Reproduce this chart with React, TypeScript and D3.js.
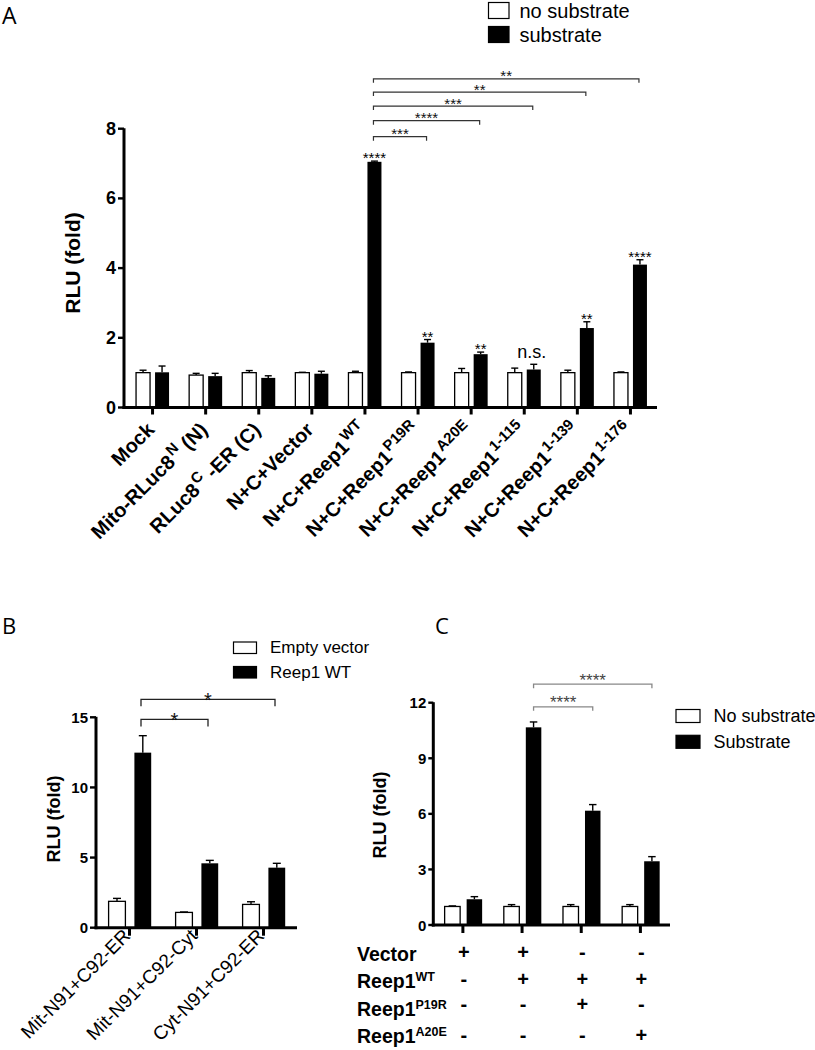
import React from "react";
import * as d3 from "d3";

// ---------------- Data ----------------
// Panel A
const catsA = [
  "Mock",
  "Mito-RLuc8^{N} (N)",
  "RLuc8^{C} -ER (C)",
  "N+C+Vector",
  "N+C+Reep1^{WT}",
  "N+C+Reep1^{P19R}",
  "N+C+Reep1^{A20E}",
  "N+C+Reep1^{1-115}",
  "N+C+Reep1^{1-139}",
  "N+C+Reep1^{1-176}",
];
const noSubA = [1.0, 0.93, 1.0, 1.0, 1.0, 1.0, 1.0, 1.0, 1.0, 1.0];
const noSubErrA = [0.07, 0.05, 0.06, 0.01, 0.04, 0.02, 0.12, 0.13, 0.07, 0.02];
const subA = [1.01, 0.9, 0.85, 0.97, 7.05, 1.86, 1.53, 1.09, 2.28, 4.1];
const subErrA = [0.18, 0.08, 0.06, 0.07, 0.02, 0.09, 0.06, 0.15, 0.18, 0.14];
const starsA = ["", "", "", "", "****", "**", "**", "n.s.", "**", "****"];
const bracketFromA = [4, 4, 4, 4, 4];
const bracketToA = [5, 6, 7, 8, 9];
const bracketLabelA = ["***", "****", "***", "**", "**"];
const bracketYA = [7.77, 8.23, 8.65, 9.05, 9.43];
const yTicksA = [0, 2, 4, 6, 8];
const legendA = ["no substrate", "substrate"];

// Panel B
const catsB = ["Mit-N91+C92-ER", "Mit-N91+C92-Cyt", "Cyt-N91+C92-ER"];
const emptyB = [1.88, 1.09, 1.66];
const emptyErrB = [0.21, 0.03, 0.19];
const wtB = [12.48, 4.59, 4.28];
const wtErrB = [1.21, 0.21, 0.31];
const bracketFromB = [0, 0];
const bracketToB = [1, 2];
const bracketLabelB = ["*", "*"];
const bracketYB = [14.85, 16.28];
const yTicksB = [0, 5, 10, 15];
const legendB = ["Empty vector", "Reep1 WT"];

// Panel C
const catsC = ["c1", "c2", "c3", "c4"];
const noSubC = [1.0, 1.0, 1.0, 1.0];
const noSubErrC = [0.03, 0.1, 0.1, 0.1];
const subC = [1.39, 10.67, 6.17, 3.44];
const subErrC = [0.14, 0.29, 0.33, 0.25];
const bracketFromC = [1, 1];
const bracketToC = [2, 3];
const bracketLabelC = ["****", "****"];
const bracketYC = [11.78, 13.0];
const yTicksC = [0, 3, 6, 9, 12];
const legendC = ["No substrate", "Substrate"];
const tableRowsC = ["Vector", "Reep1^{WT}", "Reep1^{P19R}", "Reep1^{A20E}"];
const tableSignsC = [
  ["+", "+", "-", "-"],
  ["-", "+", "+", "+"],
  ["-", "-", "+", "-"],
  ["-", "-", "-", "+"],
];

// ---------------- Helpers ----------------
const FONT = "'Liberation Sans', Arial, Helvetica, sans-serif";
const LETTER_FONT = "'Open Sans', 'Liberation Sans', sans-serif";

function parseRich(s: string) {
  const parts: { t: string; sup: boolean }[] = [];
  const re = /\^\{([^}]*)\}/g;
  let last = 0;
  let m: RegExpExecArray | null;
  while ((m = re.exec(s))) {
    if (m.index > last) parts.push({ t: s.slice(last, m.index), sup: false });
    parts.push({ t: m[1], sup: true });
    last = re.lastIndex;
  }
  if (last < s.length) parts.push({ t: s.slice(last), sup: false });
  return parts;
}

function Rich({ s, supSize, raise, supDx = 0 }: { s: string; supSize: number; raise: number; supDx?: number }) {
  const parts = parseRich(s);
  let cur = 0;
  return (
    <>
      {parts.map((p, i) => {
        const target = p.sup ? -raise : 0;
        const dy = target - cur;
        cur = target;
        return (
          <tspan key={i} dy={dy} dx={p.sup ? supDx : 0} fontSize={p.sup ? supSize : undefined}>
            {p.t}
          </tspan>
        );
      })}
    </>
  );
}

type BarsProps = {
  cats: string[];
  white: number[];
  whiteErr: number[];
  black: number[];
  blackErr: number[];
  x: d3.ScaleBand<string>;
  y: d3.ScaleLinear<number, number>;
  yTicks: number[];
  offW: number;
  offB: number;
  barW: number;
  capW: number;
  axisLeft: number;
  axisW: number;
  yTickLen: number;
  xTickLen: number;
  tickFont: number;
  tickLabelGap: number;
};

function BarsAxes(p: BarsProps) {
  const c = (k: string) => (p.x(k) as number) + p.x.bandwidth() / 2;
  const r1 = p.x.range()[1];
  const y0 = p.y(0);
  const yMax = p.y(p.yTicks[p.yTicks.length - 1]);
  return (
    <g>
      {p.cats.map((k, i) => {
        const cw = c(k) + p.offW;
        const cb = c(k) + p.offB;
        const wt = p.y(p.white[i]);
        const we = p.y(p.white[i] + p.whiteErr[i]);
        const bt = p.y(p.black[i]);
        const be = p.y(p.black[i] + p.blackErr[i]);
        return (
          <g key={k}>
            <line x1={cw} x2={cw} y1={wt} y2={we} stroke="#000" strokeWidth={1.4} />
            <line x1={cw - p.capW / 2} x2={cw + p.capW / 2} y1={we} y2={we} stroke="#000" strokeWidth={1.4} />
            <rect x={cw - p.barW / 2} y={wt} width={p.barW} height={y0 - wt} fill="#fff" stroke="#000" strokeWidth={1.3} />
            <line x1={cb} x2={cb} y1={bt} y2={be} stroke="#000" strokeWidth={1.4} />
            <line x1={cb - p.capW / 2} x2={cb + p.capW / 2} y1={be} y2={be} stroke="#000" strokeWidth={1.4} />
            <rect x={cb - p.barW / 2} y={bt} width={p.barW} height={y0 - bt} fill="#000" />
          </g>
        );
      })}
      {/* y axis */}
      <line x1={p.axisLeft} x2={p.axisLeft} y1={y0 + p.axisW / 2} y2={yMax - 0.5} stroke="#000" strokeWidth={p.axisW} />
      {p.yTicks.map((t) => (
        <g key={t}>
          <line x1={p.axisLeft - p.yTickLen} x2={p.axisLeft} y1={p.y(t)} y2={p.y(t)} stroke="#000" strokeWidth={p.axisW * 0.8} />
          <text
            x={p.axisLeft - p.yTickLen - p.tickLabelGap}
            y={p.y(t)}
            textAnchor="end"
            dominantBaseline="central"
            fontSize={p.tickFont}
            fontWeight="bold"
          >
            {t}
          </text>
        </g>
      ))}
      {/* x axis */}
      <line x1={p.axisLeft - p.axisW / 2} x2={r1} y1={y0} y2={y0} stroke="#000" strokeWidth={p.axisW} />
      {p.cats.map((k) => (
        <line key={k} x1={c(k)} x2={c(k)} y1={y0} y2={y0 + p.xTickLen} stroke="#000" strokeWidth={p.axisW} />
      ))}
    </g>
  );
}

function Brackets({
  from, to, labels, ys, x, y, cats, off, leg, stroke, sw, fontSize, textColor, textDy,
}: {
  from: number[]; to: number[]; labels: string[]; ys: number[];
  x: d3.ScaleBand<string>; y: d3.ScaleLinear<number, number>; cats: string[];
  off: number; leg: number; stroke: string; sw: number; fontSize: number; textColor: string; textDy: number;
}) {
  const c = (i: number) => (x(cats[i]) as number) + x.bandwidth() / 2 + off;
  return (
    <g>
      {from.map((f, i) => {
        const x1 = c(f);
        const x2 = c(to[i]);
        const yy = y(ys[i]);
        return (
          <g key={i}>
            <path d={`M${x1},${yy + leg}V${yy}H${x2}V${yy + leg}`} fill="none" stroke={stroke} strokeWidth={sw} />
            <text x={(x1 + x2) / 2} y={yy + textDy} textAnchor="middle" fontSize={fontSize} fill={textColor}>
              {labels[i]}
            </text>
          </g>
        );
      })}
    </g>
  );
}

function Legend({ items, x, y, boxW, boxH, gap, fontSize, textX }: {
  items: string[]; x: number; y: number; boxW: number; boxH: number; gap: number; fontSize: number; textX: number;
}) {
  return (
    <g>
      {items.map((t, i) => (
        <g key={t}>
          <rect
            x={x}
            y={y + i * gap}
            width={boxW}
            height={boxH}
            fill={i === 0 ? "#fff" : "#000"}
            stroke="#000"
            strokeWidth={1.2}
          />
          <text x={textX} y={y + i * gap + boxH / 2} dominantBaseline="central" fontSize={fontSize}>
            {t}
          </text>
        </g>
      ))}
    </g>
  );
}

// ---------------- Panels ----------------
function PanelA() {
  const x = d3.scaleBand<string>().domain(catsA).range([126, 657]);
  const y = d3.scaleLinear().domain([0, 8]).range([407.5, 128.7]);
  const offW = -9.5;
  const offB = 9.5;
  const c = (k: string) => (x(k) as number) + x.bandwidth() / 2;
  return (
    <g>
      <text x={2} y={24} fontSize={23} fontFamily={LETTER_FONT}>A</text>
      <Legend items={legendA} x={488.5} y={2.5} boxW={20.5} boxH={16} gap={24} fontSize={20} textX={519.5} />
      <text
        transform={`translate(72,263) rotate(-90)`}
        textAnchor="middle"
        dominantBaseline="central"
        fontSize={21}
        fontWeight="bold"
      >
        RLU (fold)
      </text>
      <BarsAxes
        cats={catsA} white={noSubA} whiteErr={noSubErrA} black={subA} blackErr={subErrA}
        x={x} y={y} yTicks={yTicksA} offW={offW} offB={offB} barW={14} capW={7}
        axisLeft={124} axisW={3} yTickLen={6} xTickLen={7} tickFont={18} tickLabelGap={2}
      />
      {catsA.map((k, i) => {
        const s = starsA[i];
        if (!s) return null;
        const top = y(subA[i] + subErrA[i]);
        const isNs = s === "n.s.";
        return (
          <text
            key={k}
            x={c(k) + offB + (isNs ? -2 : 0)}
            y={isNs ? top - 6 : top + 2}
            textAnchor="middle"
            fontSize={isNs ? 18 : 15}
          >
            {s}
          </text>
        );
      })}
      <Brackets
        from={bracketFromA} to={bracketToA} labels={bracketLabelA} ys={bracketYA}
        x={x} y={y} cats={catsA} off={offB - 1} leg={4} stroke="#333" sw={1.2}
        fontSize={15} textColor="#111" textDy={2.5}
      />
      {catsA.map((k) => (
        <text
          key={k}
          transform={`translate(${c(k) + 3},${431}) rotate(-45)`}
          textAnchor="end"
          fontSize={20}
          fontWeight="bold"
        >
          <Rich s={k} supSize={15} raise={8} supDx={1.5} />
        </text>
      ))}
    </g>
  );
}

function PanelB() {
  const x = d3.scaleBand<string>().domain(catsB).range([96, 297]);
  const y = d3.scaleLinear().domain([0, 15]).range([927.7, 717.3]);
  const c = (k: string) => (x(k) as number) + x.bandwidth() / 2;
  return (
    <g>
      <text x={2} y={634} fontSize={22} fontFamily={LETTER_FONT}>B</text>
      <Legend items={legendB} x={233.5} y={642} boxW={23} boxH={11.5} gap={24.5} fontSize={17} textX={270} />
      <text
        transform={`translate(54,819) rotate(-90)`}
        textAnchor="middle"
        dominantBaseline="central"
        fontSize={18}
        fontWeight="bold"
      >
        RLU (fold)
      </text>
      <BarsAxes
        cats={catsB} white={emptyB} whiteErr={emptyErrB} black={wtB} blackErr={wtErrB}
        x={x} y={y} yTicks={yTicksB} offW={-12.5} offB={13.3} barW={16.8} capW={8}
        axisLeft={96} axisW={3} yTickLen={6} xTickLen={8} tickFont={15} tickLabelGap={2}
      />
      <Brackets
        from={bracketFromB} to={bracketToB} labels={bracketLabelB} ys={bracketYB}
        x={x} y={y} cats={catsB} off={11.5} leg={7} stroke="#222" sw={1.3}
        fontSize={20} textColor="#111" textDy={8}
      />
      {catsB.map((k) => (
        <text
          key={k}
          transform={`translate(${c(k) + 2},${937}) rotate(-45)`}
          textAnchor="end"
          fontSize={19}
        >
          {k}
        </text>
      ))}
    </g>
  );
}

function PanelC() {
  const x = d3.scaleBand<string>().domain(catsC).range([433.3, 670]);
  const y = d3.scaleLinear().domain([0, 12]).range([925, 702.7]);
  const c = (k: string) => (x(k) as number) + x.bandwidth() / 2;
  const rowBase = [960.7, 988.3, 1016, 1042.7];
  const signBase = [959, 985.5, 1010.5, 1041.5];
  return (
    <g>
      <text x={435} y={634} fontSize={22} fontFamily={LETTER_FONT}>C</text>
      <Legend items={legendC} x={676} y={709.5} boxW={24} boxH={13} gap={25.8} fontSize={18} textX={713.5} />
      <text
        transform={`translate(380,815) rotate(-90)`}
        textAnchor="middle"
        dominantBaseline="central"
        fontSize={18}
        fontWeight="bold"
      >
        RLU (fold)
      </text>
      <BarsAxes
        cats={catsC} white={noSubC} whiteErr={noSubErrC} black={subC} blackErr={subErrC}
        x={x} y={y} yTicks={yTicksC} offW={-10.5} offB={11.5} barW={15.5} capW={7.5}
        axisLeft={433.3} axisW={3} yTickLen={5} xTickLen={8} tickFont={15} tickLabelGap={2}
      />
      <Brackets
        from={bracketFromC} to={bracketToC} labels={bracketLabelC} ys={bracketYC}
        x={x} y={y} cats={catsC} off={11.5} leg={4} stroke="#888" sw={1.3}
        fontSize={17} textColor="#444" textDy={1.5}
      />
      {tableRowsC.map((r, i) => (
        <g key={r}>
          <text x={357} y={rowBase[i]} fontSize={19.5} fontWeight="bold">
            <Rich s={r} supSize={12.5} raise={7} />
          </text>
          {tableSignsC[i].map((sg, j) => (
            <text key={j} x={c(catsC[j]) + 1} y={signBase[i]} textAnchor="middle" fontSize={20} fontWeight="bold">
              {sg}
            </text>
          ))}
        </g>
      ))}
    </g>
  );
}

export default function App() {
  return (
    <svg
      width={815}
      height={1050}
      style={{ position: "absolute", left: 0, top: 0, background: "#fff" }}
      fontFamily={FONT}
    >
      <rect width={815} height={1050} fill="#fff" />
      <PanelA />
      <PanelB />
      <PanelC />
    </svg>
  );
}
